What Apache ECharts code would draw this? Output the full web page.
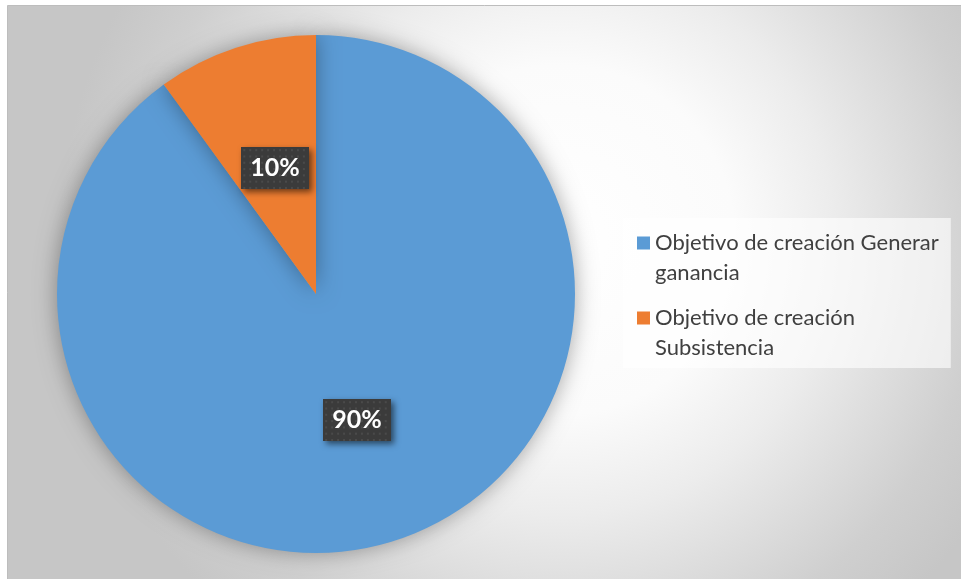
<!DOCTYPE html>
<html>
<head>
<meta charset="utf-8">
<script src="https://cdn.jsdelivr.net/npm/echarts@6/dist/echarts.min.js"></script>
<style>
  html, body { margin: 0; padding: 0; background: #ffffff; }
  #chart { width: 961px; height: 579px; }
</style>
</head>
<body>
<div id="chart"></div>
<script>
// Share of businesses by the purpose they were created for
const categories = ['Objetivo de creación Generar\nganancia', 'Objetivo de creación\nSubsistencia'];
const values = [90, 10];
const colors = ['#5B9BD5', '#ED7D31'];

// Dark dotted texture used behind the percentage labels
function dottedTexture(w, h) {
  const c = document.createElement('canvas');
  c.width = w; c.height = h;
  const g = c.getContext('2d');
  g.fillStyle = '#3b3b3b';
  g.fillRect(0, 0, w, h);
  g.fillStyle = '#4a4a4a';
  for (let y = 2; y < h; y += 6) {
    for (let x = 2; x < w; x += 6) {
      g.fillRect(x, y, 2, 2);
    }
  }
  return c.toDataURL();
}
const labelBg = dottedTexture(68, 40);

const chart = echarts.init(document.getElementById('chart'), null, { renderer: 'canvas' });

const option = {
  animation: false,
  backgroundColor: '#ffffff',
  graphic: [
    {
      type: 'rect',
      z: -10,
      silent: true,
      shape: { x: 7.5, y: 5.5, width: 960, height: 580 },
      style: {
        fill: new echarts.graphic.RadialGradient(560, 240, 500, [
          { offset: 0, color: '#ffffff' },
          { offset: 0.35, color: '#fbfbfb' },
          { offset: 0.55, color: '#ececec' },
          { offset: 0.85, color: '#cfcfcf' },
          { offset: 1, color: '#c6c6c6' }
        ], true),
        stroke: '#bdbdbd',
        lineWidth: 1
      }
    }
  ],
  legend: {
    orient: 'vertical',
    left: 623,
    top: 218,
    padding: [10, 12, 5, 14],
    backgroundColor: 'rgba(255,255,255,0.62)',
    itemGap: 15,
    itemWidth: 13,
    itemHeight: 43,
    icon: 'path://M0,0H13V13H0Z M0,42.95H0.01V43H0Z',
    selectedMode: false,
    textStyle: {
      fontFamily: 'Lato',
      fontSize: 22,
      lineHeight: 30,
      color: '#404040'
    },
    data: categories
  },
  series: [
    {
      type: 'pie',
      center: [316, 294],
      radius: 259,
      startAngle: 90,
      clockwise: true,
      color: colors,
      avoidLabelOverlap: false,
      itemStyle: {
        shadowBlur: 22,
        shadowColor: 'rgba(0,0,0,0.35)'
      },
      emphasis: { disabled: true },
      label: {
        show: true,
        position: 'inside',
        formatter: '{d}%',
        fontFamily: 'Lato',
        fontWeight: 'bold',
        fontSize: 25,
        color: '#ffffff',
        padding: [9, 9, 8, 9],
        backgroundColor: { image: labelBg },
        shadowColor: 'rgba(0,0,0,0.55)',
        shadowBlur: 6,
        shadowOffsetX: 3,
        shadowOffsetY: 3
      },
      labelLine: { show: false },
      data: categories.map((name, i) => ({ name: name, value: values[i] }))
    }
  ]
};

chart.setOption(option);
</script>
</body>
</html>
